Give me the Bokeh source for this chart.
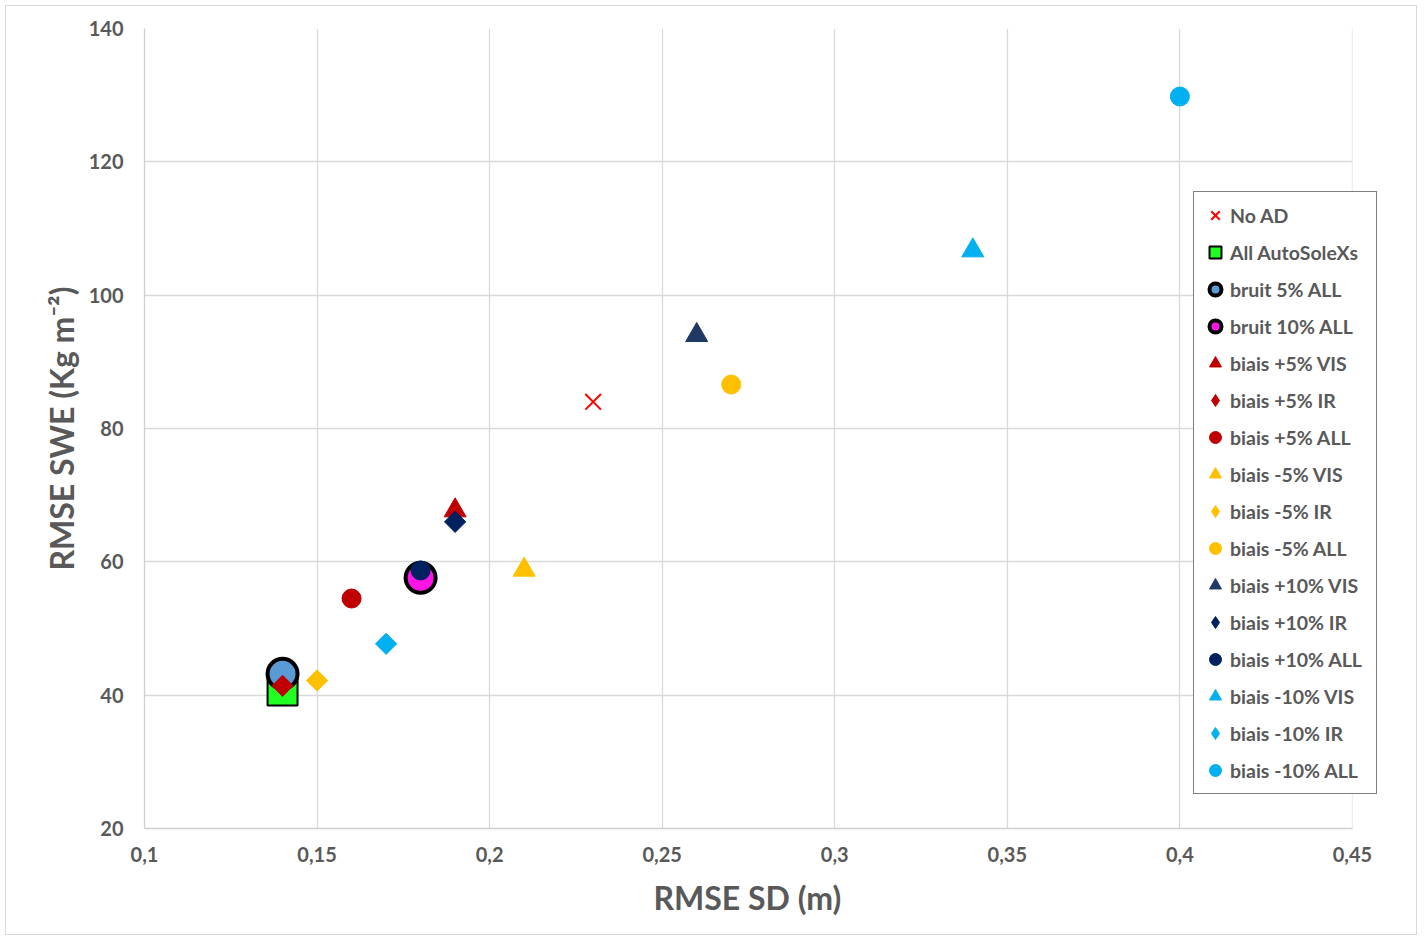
from bokeh.plotting import figure
from bokeh.models import Legend, LegendItem, FixedTicker, BoxAnnotation, Title
from bokeh.embed import file_html
from bokeh.resources import INLINE
import math

# ---- data ----
series_names = ["No AD", "All AutoSoleXs", "bruit 5% ALL", "bruit 10% ALL",
                "biais +5% VIS", "biais +5% IR", "biais +5% ALL",
                "biais -5% VIS", "biais -5% IR", "biais -5% ALL",
                "biais +10% VIS", "biais +10% IR", "biais +10% ALL",
                "biais -10% VIS", "biais -10% IR", "biais -10% ALL"]
rmse_sd = [0.23, 0.14, 0.14, 0.18,
           0.19, 0.14, 0.16,
           0.21, 0.15, 0.27,
           0.26, 0.19, 0.18,
           0.34, 0.17, 0.40]
rmse_swe = [84.0, 40.7, 43.2, 57.6,
            67.7, 41.4, 54.5,
            58.8, 42.2, 86.6,
            94.0, 66.0, 58.7,
            106.7, 47.7, 129.8]
x_ticks = [0.1, 0.15, 0.2, 0.25, 0.3, 0.35, 0.4, 0.45]
x_tick_labels = ["0,1", "0,15", "0,2", "0,25", "0,3", "0,35", "0,4", "0,45"]
y_ticks = [20, 40, 60, 80, 100, 120, 140]
x_title = "RMSE SD (m)"
y_title = "RMSE SWE (Kg m\u207b\u00b2)"

# ---- styles ----
D45 = math.pi / 4
styles = [
    dict(marker="x", size=22, fill_color=None, line_color="#ff0000", line_width=2, angle=0),
    dict(marker="square", size=30, fill_color="#22ff22", line_color="#000000", line_width=2, angle=0),
    dict(marker="circle", size=30, fill_color="#5b9bd5", line_color="#000000", line_width=4, angle=0),
    dict(marker="circle", size=30, fill_color="#ff14e6", line_color="#000000", line_width=4, angle=0),
    dict(marker="triangle", size=22, fill_color="#c00000", line_color="#c00000", line_width=1, angle=0),
    dict(marker="square", size=15, fill_color="#c00000", line_color="#c00000", line_width=1, angle=D45),
    dict(marker="circle", size=19, fill_color="#c00000", line_color="#c00000", line_width=1, angle=0),
    dict(marker="triangle", size=22, fill_color="#ffc000", line_color="#ffc000", line_width=1, angle=0),
    dict(marker="square", size=15, fill_color="#ffc000", line_color="#ffc000", line_width=1, angle=D45),
    dict(marker="circle", size=19, fill_color="#ffc000", line_color="#ffc000", line_width=1, angle=0),
    dict(marker="triangle", size=22, fill_color="#203864", line_color="#203864", line_width=1, angle=0),
    dict(marker="square", size=15, fill_color="#002060", line_color="#002060", line_width=1, angle=D45),
    dict(marker="circle", size=19, fill_color="#002060", line_color="#002060", line_width=1, angle=0),
    dict(marker="triangle", size=22, fill_color="#00b0f0", line_color="#00b0f0", line_width=1, angle=0),
    dict(marker="square", size=15, fill_color="#00b0f0", line_color="#00b0f0", line_width=1, angle=D45),
    dict(marker="circle", size=19, fill_color="#00b0f0", line_color="#00b0f0", line_width=1, angle=0),
]

FONT = "Lato"
GREY = "#595959"

# frame geometry: 0.1..0.45 spans 1206 px; frame extended 25 px to the right for the legend
X0, X1 = 0.1, 0.45
px_per_unit = 1206 / (X1 - X0)
x_end = X1 + 25 / px_per_unit

p = figure(width=1412, height=930, x_range=(X0, x_end), y_range=(20, 140),
           output_backend="svg", toolbar_location=None,
           min_border_left=138, min_border_top=22, min_border_right=41, min_border_bottom=108)
p.styles = {"border": "1px solid #d9d9d9", "margin-left": "5px", "margin-top": "5px"}
p.outline_line_color = None

items = []
for name, x, y, st in zip(series_names, rmse_sd, rmse_swe, styles):
    r = p.scatter(x=[x], y=[y], marker=st["marker"], size=st["size"], angle=st["angle"],
                  fill_color=st["fill_color"], line_color=st["line_color"],
                  line_width=st["line_width"])
    leg_r = r
    if st["angle"] != 0:
        # legend swatch: diamond (legend swatches ignore rotation)
        leg_r = p.scatter(x=[float("nan")], y=[float("nan")], marker="diamond", size=st["size"],
                          fill_color=st["fill_color"], line_color=st["line_color"],
                          line_width=st["line_width"])
    items.append(LegendItem(label=name, renderers=[leg_r]))

# white cover hiding grid lines past x = 0.45
p.add_layout(BoxAnnotation(left=X1, fill_color="white", fill_alpha=1, line_color=None, level="underlay"))

# axes
p.xaxis.ticker = FixedTicker(ticks=x_ticks)
p.xaxis.major_label_overrides = {t: l for t, l in zip(x_ticks, x_tick_labels)}
p.xaxis.bounds = (X0, X1)
p.yaxis.ticker = FixedTicker(ticks=y_ticks)
for ax in (p.xaxis[0], p.yaxis[0]):
    ax.major_tick_line_color = None
    ax.minor_tick_line_color = None
    ax.axis_line_color = "#d0d0d0"
    ax.axis_line_width = 1.3
    ax.major_label_text_font = FONT
    ax.major_label_text_font_style = "bold"
    ax.major_label_text_font_size = "20px"
    ax.major_label_text_color = GREY
    ax.axis_label_text_font = FONT
    ax.axis_label_text_font_style = "bold"
    ax.axis_label_text_font_size = "32px"
    ax.axis_label_text_color = GREY
p.yaxis.axis_label = y_title
p.xaxis.major_label_standoff = 12
p.yaxis.major_label_standoff = 15
p.yaxis.axis_label_standoff = 5

# x-axis title centred on the 0.1..0.45 span (frame is wider because of the legend)
xt = Title(text=x_title, align="left", offset=509, text_font=FONT, text_font_style="bold",
           text_font_size="32px", text_color=GREY, standoff=22)
p.add_layout(xt, "below")

p.xgrid.grid_line_color = "#d9d9d9"
p.ygrid.grid_line_color = "#d9d9d9"
p.xgrid.grid_line_width = 1.3
p.ygrid.grid_line_width = 1.3

legend = Legend(items=items, location=(1049, 34))
legend.border_line_color = "#000000"
legend.border_line_width = 1.3
legend.background_fill_alpha = 1
legend.label_text_font = FONT
legend.label_text_font_style = "bold"
legend.label_text_font_size = "19.5px"
legend.label_text_color = GREY
legend.glyph_width = 30
legend.glyph_height = 34
legend.label_height = 20
legend.label_width = 140
legend.spacing = 3
legend.padding = 6
legend.margin = 0
legend.label_standoff = 0
p.add_layout(legend, "center")

open("out.html", "w").write(file_html(p, INLINE))
